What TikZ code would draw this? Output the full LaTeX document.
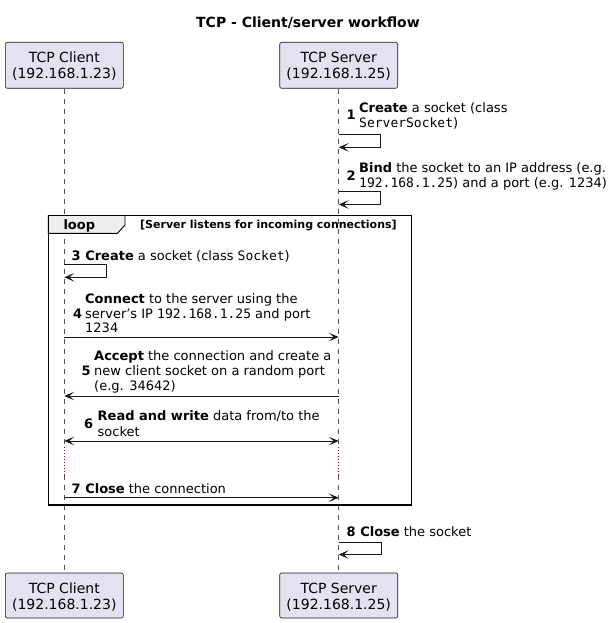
\documentclass[tikz,border=0pt]{standalone}
\usepackage{fontspec}
\setmainfont{DejaVu Sans}
\setmonofont{DejaVu Sans Mono}
\usetikzlibrary{arrows.meta}
\definecolor{partfill}{HTML}{E2E2F0}
\definecolor{ink}{HTML}{181818}
\definecolor{delaycol}{HTML}{A80036}
\definecolor{tabfill}{HTML}{EEEEEE}
\tikzset{
  part/.style={draw=ink, fill=partfill, line width=0.6pt, rounded corners=2pt,
    minimum width=118pt, minimum height=46pt, inner sep=0pt},
  ptext/.style={anchor=base, inner sep=0pt, font=\fontsize{14}{16}\selectfont},
  lifeline/.style={draw=ink!75, line width=0.6pt, dash pattern=on 5pt off 5pt},
  delayline/.style={draw=delaycol, line width=0.9pt, dash pattern=on 1pt off 2pt},
  msgtxt/.style={anchor=base west, inner sep=0pt, font=\fontsize{13}{15}\selectfont},
  numtxt/.style={anchor=base west, inner sep=0pt, font=\fontsize{13}{15}\selectfont\bfseries},
  msgarrow/.style={draw=ink, line width=0.9pt, -{Stealth[length=10pt,width=8.5pt,inset=5pt]}},
  biarrow/.style={draw=ink, line width=0.9pt, {Stealth[length=10pt,width=8.5pt,inset=5pt]}-{Stealth[length=10pt,width=8.5pt,inset=5pt]}},
}
\begin{document}
\begin{tikzpicture}[x=1pt,y=-1pt]
\useasboundingbox (0,0) rectangle (612,623);
\fill[white] (0,0) rectangle (612,623);

% title
\node[anchor=base, inner sep=0pt, font=\fontsize{14}{16}\selectfont\bfseries] (title) at (308,27.7) {TCP - Client/server workflow};

% participants
\node[part] (cTop) at (64.3,65.3) {};
\node[ptext] (cTopA) at (64.3,62.7) {TCP Client};
\node[ptext] (cTopB) at (64.3,78.3) {(192.168.1.23)};
\node[part] (sTop) at (338.7,65.3) {};
\node[ptext] (sTopA) at (338.7,62.7) {TCP Server};
\node[ptext] (sTopB) at (338.7,78.3) {(192.168.1.25)};

\node[part, minimum height=45pt] (cBot) at (64.3,595.5) {};
\node[ptext] (cBotA) at (64.3,593.3) {TCP Client};
\node[ptext] (cBotB) at (64.3,609) {(192.168.1.23)};
\node[part, minimum height=45pt] (sBot) at (338.7,595.5) {};
\node[ptext] (sBotA) at (338.7,593.3) {TCP Server};
\node[ptext] (sBotB) at (338.7,609) {(192.168.1.25)};

% delay coordinates
\coordinate (cD1) at (64.3,447);
\coordinate (cD2) at (64.3,475);
\coordinate (sD1) at (338.7,447);
\coordinate (sD2) at (338.7,475);

% lifelines
\draw[lifeline] (cTop.south) -- (cD1);
\draw[lifeline] (cD2) -- (cBot.north);
\draw[lifeline] (sTop.south) -- (sD1);
\draw[lifeline] (sD2) -- (sBot.north);
\draw[delayline] (cD1) -- (cD2);
\draw[delayline] (sD1) -- (sD2);

% loop frame
\draw[draw=black, line width=0.9pt, fill=tabfill] (48.3,215.5) -- (125,215.5) -- (125,225) -- (117.5,233.3) -- (48.3,233.3) -- cycle;
\draw[draw=black, line width=1.5pt] (48.3,215.5) rectangle (411.5,505);
\node[numtxt] (looplbl) at (63.3,229) {loop};
\node[anchor=base west, inner sep=0pt, font=\fontsize{11}{13}\selectfont\bfseries] (guard) at (140,228.5) {[Server listens for incoming connections]};

% message 1
\coordinate (m1a) at (338.7,134.3);
\coordinate (m1r) at (380,134.3);
\coordinate (m1s) at (380,147.3);
\coordinate (m1b) at (338.7,147.3);
\node[numtxt] (n1) at (346.5,120) {1};
\node[msgtxt] (t1a) at (359,112.7) {\textbf{Create} a socket (class};
\node[msgtxt] (t1b) at (359,127.7) {\texttt{ServerSocket})};
\draw[msgarrow] (m1a) -- (m1r) -- (m1s) -- (m1b);

% message 2
\coordinate (m2a) at (338.7,191.7);
\coordinate (m2r) at (380,191.7);
\coordinate (m2s) at (380,204.5);
\coordinate (m2b) at (338.7,204.5);
\node[numtxt] (n2) at (346.5,180) {2};
\node[msgtxt] (t2a) at (359,172.7) {\textbf{Bind} the socket to an IP address (e.g.};
\node[msgtxt] (t2b) at (359,187.5) {\texttt{192.168.1.25}) and a port (e.g. 1234)};
\draw[msgarrow] (m2a) -- (m2r) -- (m2s) -- (m2b);

% message 3
\coordinate (m3a) at (64.3,264.3);
\coordinate (m3r) at (106.7,264.3);
\coordinate (m3s) at (106.7,277.3);
\coordinate (m3b) at (64.3,277.3);
\node[msgtxt] (t3) at (71.5,260) {\textbf{3 Create} a socket (class \texttt{Socket})};
\draw[msgarrow] (m3a) -- (m3r) -- (m3s) -- (m3b);

% message 4
\coordinate (m4a) at (64.3,337);
\coordinate (m4b) at (338.7,337);
\node[numtxt] (n4) at (73,318) {4};
\node[msgtxt] (t4a) at (85,303.3) {\textbf{Connect} to the server using the};
\node[msgtxt] (t4b) at (85,318) {server's IP \texttt{192.168.1.25} and port};
\node[msgtxt] (t4c) at (85,332.5) {1234};
\draw[msgarrow] (m4a) -- (m4b);

% message 5
\coordinate (m5a) at (338.7,396);
\coordinate (m5b) at (64.3,396);
\node[numtxt] (n5) at (81.5,375.7) {5};
\node[msgtxt] (t5a) at (94,360.7) {\textbf{Accept} the connection and create a};
\node[msgtxt] (t5b) at (94,375.7) {new client socket on a random port};
\node[msgtxt] (t5c) at (94,390.3) {(e.g. 34642)};
\draw[msgarrow] (m5a) -- (m5b);

% message 6
\coordinate (m6a) at (64.3,441);
\coordinate (m6b) at (338.7,441);
\node[numtxt] (n6) at (84,428) {6};
\node[msgtxt] (t6a) at (97.5,420.7) {\textbf{Read and write} data from/to the};
\node[msgtxt] (t6b) at (97.5,436) {socket};
\draw[biarrow] (m6a) -- (m6b);

% message 7
\coordinate (m7a) at (64.3,497.7);
\coordinate (m7b) at (338.7,497.7);
\node[msgtxt] (t7) at (71.5,493.3) {\textbf{7 Close} the connection};
\draw[msgarrow] (m7a) -- (m7b);

% message 8
\coordinate (m8a) at (338.7,542);
\coordinate (m8r) at (381,542);
\coordinate (m8s) at (381,554.5);
\coordinate (m8b) at (338.7,554.5);
\node[msgtxt] (t8) at (346.5,536) {\textbf{8 Close} the socket};
\draw[msgarrow] (m8a) -- (m8r) -- (m8s) -- (m8b);
\end{tikzpicture}
\end{document}
